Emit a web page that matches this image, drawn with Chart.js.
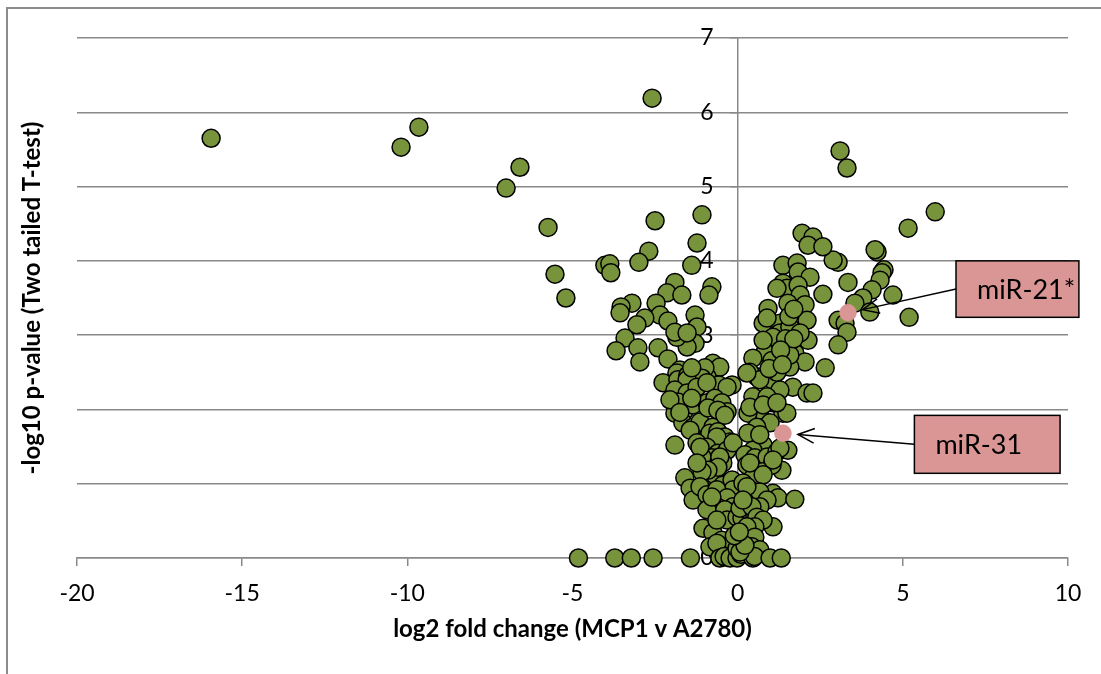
<!DOCTYPE html>
<html><head><meta charset="utf-8">
<script src="https://cdn.jsdelivr.net/npm/chart.js@4.4.1/dist/chart.umd.min.js"></script>
<style>html,body{margin:0;padding:0;background:#fff;overflow:hidden}canvas{display:block}</style>
</head><body>
<canvas id="c" width="1101" height="674"></canvas>
<script>
// ---- data ----
const log2FC = [
 -15.94,-10.19,-9.65,-7.01,-6.59,-5.74,-5.53,-5.20,
 -2.59,-2.50,-2.69,-1.08,-1.23,-1.39,
 -4.02,-3.87,-3.84,-2.99,
 -0.78,-0.87,-1.90,-2.14,-1.69,-2.47,-3.20,-3.53,-3.56,
 -2.35,-2.11,-2.81,-3.05,-3.41,-3.02,-3.68,-2.96,-2.41,-2.11,
 -1.29,-1.23,-1.29,-1.53,-1.84,-1.90,-1.53,
 -1.75,-1.84,-0.75,-0.54,-0.17,-2.26,-1.81,-1.51,-1.14,-0.93,-0.57,
 -1.96,-1.90,-1.60,-1.35,-0.93,-0.54,-1.66,-1.35,-1.14,-0.75,
 -1.90,-0.99,-1.08,-1.53,-1.39,
 -1.90,-1.53,-1.23,-0.93,-0.32,-1.81,-1.39,-0.69,-0.48,-2.05,-1.75,-0.90,-0.32,-0.60,-0.39,
 -1.44,-0.84,-0.60,-0.39,-0.23,-0.63,-1.23,-0.93,-0.60,-0.78,-1.08,-0.32,-0.14,-0.45,-1.14,-0.54,
 -1.60,-1.44,-1.35,-0.93,-0.69,-0.45,-0.17,-0.14,-0.60,-0.90,-1.08,-1.23,
 -1.14,-0.93,-0.63,-0.32,-0.63,-0.93,-0.14,-1.05,-0.75,-0.48,-0.23,-0.60,-0.29,-0.84,-0.39,-0.78,-0.32,-0.14,-0.63,-0.63,-0.02,
 3.10,3.31,5.98,5.16,5.19,4.70,4.22,4.16,4.43,4.37,4.31,4.07,3.79,3.55,4.00,
 3.04,3.25,3.31,3.04,3.34,2.58,3.04,2.89,
 1.95,2.28,2.13,2.58,1.37,1.80,1.83,2.19,
 1.37,1.49,1.83,1.89,2.04,1.52,2.10,2.13,1.73,2.04,1.58,2.65,
 1.28,1.28,1.19,0.92,0.77,0.89,1.07,
 0.83,0.46,1.04,1.58,0.58,0.37,1.04,1.19,1.67,2.10,2.28,1.28,0.46,1.07,0.67,1.37,0.31,0.67,0.28,0.77,1.58,1.89,0.89,1.49,0.98,0.37,0.77,1.19,
 0.58,0.31,0.77,0.46,0.22,0.28,0.52,0.89,1.19,1.52,1.34,1.04,0.74,0.46,0.16,0.37,0.77,1.07,1.22,1.73,0.22,0.52,1.07,0.13,0.28,0.52,0.07,
 0.67,1.28,1.07,0.37,0.77,0.67,0.89,0.67,0.43,0.58,0.77,0.52,0.28,0.13,0.52,0.43,0.13,0.67,0.28,0.16,
 1.55,1.70,1.45,1.70,1.30,0.95,1.35,
 -4.82,-3.72,-3.22,-2.56,-1.43,-0.54,-0.41,-0.23,-0.02,0.10,0.46,0.51,0.98,1.32,
 -0.02,0.07,0.22,-0.10,0.05
];
const negLog10P = [
 5.65,5.53,5.80,4.98,5.26,4.45,3.82,3.50,
 6.19,4.54,4.13,4.62,4.24,3.94,
 3.94,3.96,3.84,3.98,
 3.65,3.54,3.71,3.57,3.54,3.43,3.43,3.38,3.30,
 3.27,3.19,3.23,3.14,2.96,2.83,2.79,2.64,2.83,2.68,
 3.27,3.11,2.89,2.84,2.97,3.04,3.03,
 2.53,2.49,2.62,2.57,2.33,2.36,2.40,2.46,2.49,2.44,2.33,
 2.17,1.95,1.99,2.06,2.09,1.95,1.82,1.76,1.83,1.76,
 1.52,2.56,2.42,2.40,2.56,
 2.26,2.22,2.30,2.36,2.30,2.10,2.15,2.15,2.09,2.13,1.96,2.02,1.97,1.99,1.92,
 1.72,1.68,1.70,1.63,1.56,1.63,1.55,1.49,1.41,1.35,1.36,1.45,1.55,1.28,1.49,1.36,
 1.08,0.94,0.78,0.98,1.12,0.98,1.05,0.92,1.22,1.18,1.16,1.28,
 0.96,0.85,0.92,0.81,0.69,0.65,0.69,0.40,0.34,0.24,0.15,0.07,0.01,0.15,0.65,0.82,0.51,0.22,0.20,0.51,0.55,
 5.48,5.25,4.66,4.44,3.24,3.54,4.12,4.15,3.88,3.84,3.74,3.61,3.50,3.43,3.31,
 3.20,3.16,3.04,2.87,3.71,3.55,3.98,4.01,
 4.37,4.32,4.21,4.19,3.94,3.97,3.85,3.78,
 3.70,3.63,3.67,3.54,3.41,3.43,3.20,2.93,2.76,2.64,2.57,2.56,
 3.16,3.03,3.63,3.36,3.16,3.23,2.97,
 2.77,2.69,2.66,2.73,2.44,2.50,2.40,2.50,2.30,2.22,2.22,2.26,2.17,2.09,1.99,1.95,1.95,2.40,2.49,2.93,3.11,3.03,2.17,1.95,1.82,2.03,2.06,2.09,
 1.76,1.68,1.52,1.45,1.39,1.25,1.35,1.36,1.43,1.45,1.18,1.25,1.16,1.08,1.01,0.92,0.82,0.87,0.81,0.79,0.81,0.74,0.42,0.54,0.65,0.58,0.67,
 1.66,1.48,1.32,1.28,1.12,0.89,0.78,0.69,0.69,0.55,0.51,0.42,0.42,0.28,0.28,0.15,0.11,0.11,0.96,0.78,
 3.25,3.35,2.95,2.95,2.80,2.55,2.60,
 0,0,0,0,0,0,0.02,0,0,0.05,0,0.02,0,0,
 0.13,0.08,0.17,0.30,0.35
];
const highlightNames = ['miR-21*', 'miR-31'];
const highlightFC = [3.34, 1.37];
const highlightP = [3.30, 1.68];
const xTickValues = [-20, -15, -10, -5, 0, 5, 10];
const yTickValues = [0, 1, 2, 3, 4, 5, 6, 7];
const xTitle = 'log2 fold change (MCP1 v A2780)';
const yTitle = '-log10 p-value (Two tailed T-test)';

// ---- callout layout (box corners in axis units) ----
const callouts = [
  { name: 0, x1: 6.61, x2: 10.33, yTop: 4.0, yBottom: 3.24 },
  { name: 1, x1: 5.35, x2: 9.76, yTop: 1.92, yBottom: 1.14 }
];

const FONT = 'Lato';
const GRID = '#898989';
const Y_LABEL_GAP = 24; // px between y axis line and right edge of its labels

const points = log2FC.map((x, i) => ({ x: x, y: negLog10P[i] }));
const hiPoints = highlightFC.map((x, i) => ({ x: x, y: highlightP[i] }));

const bgPlugin = {
  id: 'bg',
  beforeDraw(chart) {
    const c = chart.ctx;
    c.save();
    c.fillStyle = '#fff';
    c.fillRect(0, 0, chart.width, chart.height);
    c.strokeStyle = '#8c8c8c';
    c.lineWidth = 2;
    c.beginPath();
    c.moveTo(7, chart.height + 2);
    c.lineTo(7, 8);
    c.lineTo(chart.width + 2, 8);
    c.stroke();
    c.restore();
  }
};

const calloutPlugin = {
  id: 'callouts',
  afterDatasetsDraw(chart) {
    const c = chart.ctx, xs = chart.scales.x, ys = chart.scales.y;
    c.save();
    callouts.forEach(co => {
      const bx1 = xs.getPixelForValue(co.x1), bx2 = xs.getPixelForValue(co.x2);
      const by1 = ys.getPixelForValue(co.yTop), by2 = ys.getPixelForValue(co.yBottom);
      const px = xs.getPixelForValue(highlightFC[co.name]);
      const py = ys.getPixelForValue(highlightP[co.name]);
      const sx = bx1, sy = (by1 + by2) / 2;
      const dx = px - sx, dy = py - sy, len = Math.hypot(dx, dy);
      const ux = dx / len, uy = dy / len;
      const tx = px - ux * 15, ty = py - uy * 15;
      c.strokeStyle = '#000';
      c.lineWidth = 1.5;
      c.beginPath(); c.moveTo(sx, sy); c.lineTo(tx, ty); c.stroke();
      const ang = Math.atan2(-uy, -ux), a = 0.42, L = 18;
      c.beginPath();
      c.moveTo(tx + L * Math.cos(ang + a), ty + L * Math.sin(ang + a));
      c.lineTo(tx, ty);
      c.lineTo(tx + L * Math.cos(ang - a), ty + L * Math.sin(ang - a));
      c.stroke();
      c.fillStyle = '#d99694';
      c.fillRect(bx1, by1, bx2 - bx1, by2 - by1);
      c.lineWidth = 1.5;
      c.strokeRect(bx1, by1, bx2 - bx1, by2 - by1);
      c.fillStyle = '#000';
      c.font = '27px ' + FONT;
      c.textAlign = 'left';
      c.textBaseline = 'middle';
      c.fillText(highlightNames[co.name], bx1 + 21, sy + 1);
    });
    c.restore();
  }
};

function setTicks(values) {
  return scale => { scale.ticks = values.map(v => ({ value: v })); };
}

function build() {
  const chart = new Chart(document.getElementById('c'), {
    type: 'scatter',
    data: {
      datasets: [
        { label: 'highlighted', data: hiPoints, backgroundColor: '#d99694', borderColor: '#d99694',
          borderWidth: 0.5, pointRadius: 8.5, clip: false },
        { label: 'miRNA', data: points, backgroundColor: '#77933c', borderColor: '#000',
          borderWidth: 1.5, pointRadius: 9, clip: false }
      ]
    },
    options: {
      responsive: false, animation: false, devicePixelRatio: 1,
      layout: { padding: { left: 0, top: 38, right: 33, bottom: 0 } },
      plugins: { legend: { display: false }, tooltip: { enabled: false } },
      scales: {
        x: {
          type: 'linear', position: 'bottom', min: -20, max: 10,
          afterBuildTicks: setTicks(xTickValues),
          afterFit: s => { s.height = 116; },
          ticks: { color: '#000', font: { family: FONT, size: 23 }, padding: 14, maxRotation: 0 },
          grid: { drawOnChartArea: false, drawTicks: true, tickLength: 8, tickColor: GRID, lineWidth: 1.5, color: GRID },
          border: { color: GRID, width: 1.5 },
          title: { display: true, text: xTitle, color: '#000', font: { family: FONT, size: 24, weight: 'bold' },
                   padding: { top: 0, bottom: 30 } }
        },
        y: {
          type: 'linear', position: 'left', min: 0, max: 7,
          afterBuildTicks: setTicks(yTickValues),
          afterFit: s => { s.width = 77; },
          ticks: { display: false },
          grid: { color: GRID, lineWidth: 1.5, drawTicks: false },
          border: { display: false },
          title: { display: true, text: yTitle, color: '#000', font: { family: FONT, size: 24, weight: 'bold' },
                   padding: { top: 18, bottom: 0 } }
        },
        yAxisLine: {
          type: 'linear', axis: 'y', position: { x: 0 }, min: 0, max: 7,
          afterBuildTicks: setTicks(yTickValues),
          ticks: { display: false },
          grid: { drawOnChartArea: false, drawTicks: true, tickLength: 7, color: GRID, lineWidth: 1.5 },
          border: { color: GRID, width: 1.5 }
        },
        yLab: {
          type: 'linear', axis: 'y', position: { x: -0.73 }, min: 0, max: 7,
          afterBuildTicks: setTicks(yTickValues),
          ticks: { color: '#000', font: { family: FONT, size: 23 } },
          grid: { display: false },
          border: { display: false }
        }
      }
    },
    plugins: [bgPlugin, calloutPlugin]
  });
}

if (document.fonts && document.fonts.load) {
  Promise.all([document.fonts.load('23px Lato'), document.fonts.load('bold 24px Lato')])
    .then(build, build);
} else { build(); }
</script>
</body></html>
